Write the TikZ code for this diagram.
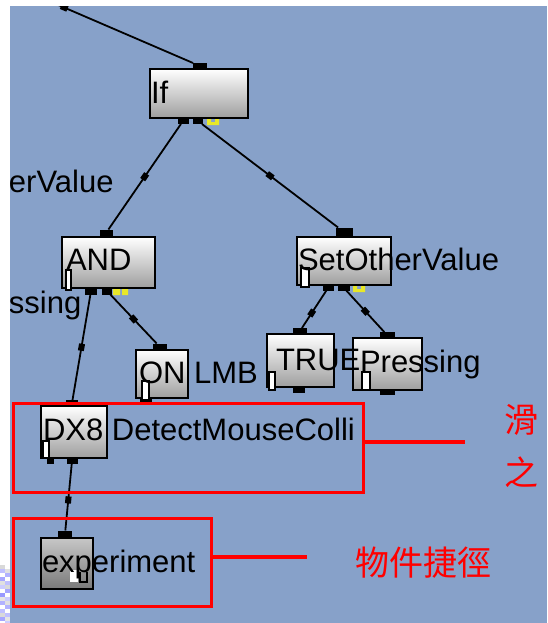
\documentclass[tikz,border=0pt]{standalone}
\usepackage{fontspec}
\setmainfont{Liberation Sans}
\newfontfamily\cjk{Noto Sans CJK TC}
\definecolor{bgblue}{RGB}{135,161,201}
\definecolor{ymark}{RGB}{232,232,40}
\begin{document}
\begin{tikzpicture}[x=1pt,y=-1pt,
  gbox/.style={draw=black,line width=2pt,top color=white,bottom color=black!38,inner sep=0,outer sep=0,anchor=north west},
  ebox/.style={gbox,top color=black!22,bottom color=black!52},
  pad/.style={fill=black,inner sep=0,outer sep=0,minimum height=6pt},
  conn/.style={line width=1.8pt,black},
  mk/.style={fill=black,inner sep=0,minimum width=7pt,minimum height=6pt,sloped},
  lbl/.style={inner sep=0,outer sep=0,anchor=base west,font=\fontsize{31}{36}\selectfont},
  annot/.style={draw=red,line width=3.5pt,inner sep=0,outer sep=0,anchor=north west},
  redline/.style={red,line width=3.5pt},
  cjklbl/.style={inner sep=0,outer sep=0,anchor=base west,text=red,font=\cjk\fontsize{34}{40}\selectfont},
  tickmark/.style={draw=black,line width=1.5pt,fill=white}
]
\useasboundingbox (0,0) rectangle (547,623);
\fill[bgblue] (0,0) rectangle (547,623);

% boxes
\node[gbox,minimum width=98pt,minimum height=49pt] (ifbox) at (150,69) {};
\node[gbox,minimum width=93pt,minimum height=51pt] (andbox) at (62,237) {};
\node[gbox,minimum width=94pt,minimum height=48pt] (sovbox) at (297,237) {};
\node[gbox,minimum width=52pt,minimum height=48pt] (onbox) at (136,350) {};
\node[gbox,minimum width=67pt,minimum height=53pt] (truebox) at (267,334) {};
\node[gbox,minimum width=69pt,minimum height=52pt] (prbox) at (353,338) {};
\node[gbox,minimum width=66pt,minimum height=52pt] (dxbox) at (41,406) {};
\node[ebox,minimum width=52pt,minimum height=51pt] (expbox) at (41,538) {};

% pads
\node[pad,minimum width=14pt] (ifT) at (200,66) {};
\node[pad,minimum width=11pt] (ifB1) at (183,121) {};
\node[pad,minimum width=10pt] (ifB2) at (198,121) {};
\node[pad,minimum width=13pt,minimum height=7pt] (andT) at (106,233) {};
\node[pad,minimum width=12pt,minimum height=7pt] (andB1) at (91,291) {};
\node[pad,minimum width=10pt,minimum height=7pt] (andB2) at (107,291) {};
\node[pad,minimum width=17pt,minimum height=9pt] (sovT) at (344,232) {};
\node[pad,minimum width=11pt,minimum height=5pt] (sovB1) at (328,288) {};
\node[pad,minimum width=12pt,minimum height=5pt] (sovB2) at (344,288) {};
\node[pad,minimum width=14pt,minimum height=7pt] (onT) at (160,347) {};
\node[pad,minimum width=12pt,minimum height=5pt] (onB) at (146,401) {};
\node[pad,minimum width=14pt] (trueT) at (300,331) {};
\node[pad,minimum width=12pt] (trueB) at (299,390) {};
\node[pad,minimum width=15pt] (prT) at (387,335) {};
\node[pad,minimum width=15pt,minimum height=5pt] (prB) at (387,392) {};
\node[pad,minimum width=12pt] (dxT) at (72,403) {};
\node[pad,minimum width=7pt] (dxB1) at (50,461) {};
\node[pad,minimum width=11pt] (dxB2) at (72,461) {};
\node[pad,minimum width=14pt,minimum height=7pt] (expT) at (65,534) {};

% yellow marks
\fill[ymark] (207,119) rectangle (211,125) (215,119) rectangle (219,125) (207,122) rectangle (219,125);
\fill[ymark] (113,289) rectangle (120,295) (122,289) rectangle (128,295);
\fill[ymark] (353,286) rectangle (357,292) (361,286) rectangle (365,292) (353,289) rectangle (365,292);

% connectors
\coordinate (topin) at (56,4);
\draw[conn] (topin) -- node[mk,pos=0.06]{} (ifT);
\draw[conn] (ifB1) -- node[mk,pos=0.5]{} (andT);
\draw[conn] (ifB2) -- node[mk,pos=0.5]{} (sovT);
\draw[conn] (andB1) -- node[mk,pos=0.5]{} (dxT);
\draw[conn] (andB2) -- node[mk,pos=0.5]{} (onT);
\draw[conn] (sovB1) -- node[mk,pos=0.6]{} (trueT);
\draw[conn] (sovB2) -- node[mk,pos=0.5]{} (prT);
\draw[conn] (dxB2) -- node[mk,pos=0.54]{} (expT);

% small marks inside boxes
\draw[tickmark] (66,270) rectangle (71,290);
\draw[tickmark] (301,268) rectangle (309,287);
\draw[tickmark] (142,381) rectangle (149,400);
\draw[tickmark] (269,372) rectangle (275,390);
\draw[tickmark] (362,372) rectangle (370,390);
\draw[tickmark] (43,441) rectangle (49,458);
\fill[white] (70,570) rectangle (78,582);
\draw[black,line width=1.5pt] (80,572) -- (80,582) -- (87,582) -- (87,572);

% labels
\node[lbl] (tif) at (151,103) {If};
\node[lbl] (tev) at (9,192) {erValue};
\node[lbl] (tss) at (9,313) {ssing};
\node[lbl] (tand) at (66,270) {AND};
\node[lbl] (tsov) at (298,270) {SetOtherValue};
\node[lbl] (ton) at (139,383) {ON LMB};
\node[lbl] (ttrue) at (276,370) {TRUE};
\node[lbl] (tpr) at (360,372) {Pressing};
\node[lbl] (tdx) at (43,440) {DX8 DetectMouseColli};
\node[lbl] (texp) at (42,572) {experiment};

% red annotations
\node[annot,minimum width=350pt,minimum height=89pt] (rect1) at (13.5,403.5) {};
\node[annot,minimum width=198pt,minimum height=88pt] (rect2) at (13.5,518.5) {};
\coordinate (lineA) at (465,442);
\coordinate (lineB) at (307,557);
\draw[redline] (rect1.east |- lineA) -- (lineA);
\draw[redline] (rect2.east |- lineB) -- (lineB);
\node[cjklbl] (c1) at (355,575) {物件捷徑};
\node[cjklbl] (c2) at (504,432) {滑};
\node[cjklbl] (c3) at (504,485) {之};

% margins
\fill[white] (0,0) rectangle (547,6);
\fill[white] (0,0) rectangle (10,623);
\foreach \yy/\cc in {565/{black!15},569/{blue!25},573/{white},577/{blue!35},581/{black!12},585/{blue!20},589/{white},593/{blue!40},597/{black!10},601/{blue!30},605/{white},609/{blue!25},613/{black!15},617/{blue!35},621/{white}}
  \fill[\cc] (0,\yy) rectangle (5,\yy+4);
\foreach \yy/\cc in {565/{white},569/{black!12},573/{blue!30},577/{white},581/{blue!25},585/{black!15},589/{blue!35},593/{white},597/{blue!20},601/{black!12},605/{blue!30},609/{white},613/{blue!25},617/{black!10},621/{blue!20}}
  \fill[\cc] (5,\yy) rectangle (10,\yy+4);
\end{tikzpicture}
\end{document}
